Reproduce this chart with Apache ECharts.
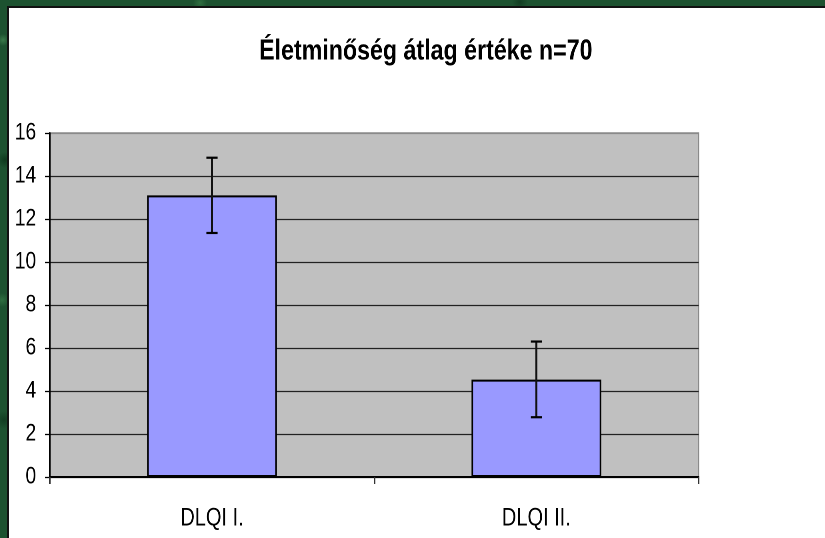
<!DOCTYPE html>
<html>
<head>
<meta charset="utf-8">
<script src="https://cdn.jsdelivr.net/npm/echarts@6/dist/echarts.min.js"></script>
<style>
  html, body { margin: 0; padding: 0; }
  body {
    width: 825px; height: 538px; overflow: hidden; position: relative;
    background-color: #1d5230;
    background-image:
      radial-gradient(circle at 3px 40px, #3a7a4a 0, transparent 6px),
      radial-gradient(circle at 5px 160px, #0f3a1e 0, transparent 8px),
      radial-gradient(circle at 2px 300px, #2f6e40 0, transparent 7px),
      radial-gradient(circle at 4px 420px, #123d22 0, transparent 9px),
      radial-gradient(circle at 200px 3px, #2f6e40 0, transparent 7px),
      radial-gradient(circle at 520px 2px, #123d22 0, transparent 8px);
  }
  #frame {
    position: absolute; left: 7px; top: 6px; width: 816px; height: 532px;
    background: #fff; border-left: 2px solid #111; border-top: 2px solid #111;
    overflow: hidden;
  }
  /* az eredeti kép vízszintesen össze van nyomva */
  #chart {
    position: absolute; left: 0; top: 0; width: 1020px; height: 532px;
    transform: scaleX(0.8); transform-origin: 0 0;
  }
</style>
</head>
<body>
<div id="frame"><div id="chart"></div></div>
<script>
// kategóriák és értékek
var categories = ['DLQI I.', 'DLQI II.']
var means = [13.1, 4.53]
var errLow = [11.35, 2.78]
var errHigh = [14.85, 6.3]
var yTicks = [0, 2, 4, 6, 8, 10, 12, 14, 16]

var font = "'Liberation Sans', Arial, sans-serif"
var myChart = echarts.init(document.getElementById('chart'), null, { devicePixelRatio: 2 })

var errData = categories.map(function (c, i) {
  return [i, errLow[i], errHigh[i]]
})

var option = {
  animation: false,
  title: {
    text: 'Életminőség átlag értéke n=70',
    left: 516,
    top: 24,
    textAlign: 'center',
    textStyle: { fontFamily: font, fontSize: 29, fontWeight: 'bold', color: '#000' }
  },
  grid: {
    left: 51, top: 125, width: 811, height: 344,
    show: true, backgroundColor: '#c0c0c0', borderColor: '#8a8a8a', borderWidth: 1.5
  },
  xAxis: {
    type: 'category',
    data: categories,
    axisLine: { lineStyle: { color: '#000', width: 2 } },
    axisTick: { show: true, length: 7, lineStyle: { color: '#333', width: 2 } },
    axisLabel: { margin: 29, fontFamily: font, fontSize: 25, color: '#000' }
  },
  yAxis: {
    type: 'value',
    min: yTicks[0],
    max: yTicks[yTicks.length - 1],
    interval: 2,
    axisLine: { show: true, lineStyle: { color: '#000', width: 2 } },
    axisTick: { show: true, length: 6, lineStyle: { color: '#000', width: 1.3 } },
    axisLabel: { margin: 17, fontFamily: font, fontSize: 24, color: '#000' },
    splitLine: {
      show: true,
      lineStyle: {
        color: ['#000', '#222', '#222', '#222', '#222', '#222', '#222', '#222', '#8a8a8a'],
        width: 1.3
      }
    }
  },
  series: [
    {
      type: 'bar',
      data: means,
      barWidth: '40%',
      itemStyle: { color: '#9999ff', borderColor: '#000', borderWidth: 2 }
    },
    {
      type: 'custom',
      data: errData,
      z: 10,
      renderItem: function (params, api) {
        var lo = api.coord([api.value(0), api.value(1)])
        var hi = api.coord([api.value(0), api.value(2)])
        var w = 7
        return {
          type: 'group',
          children: [
            { type: 'line', shape: { x1: hi[0], y1: hi[1], x2: lo[0], y2: lo[1] }, style: { stroke: '#111', lineWidth: 2.5 } },
            { type: 'line', shape: { x1: hi[0] - w, y1: hi[1], x2: hi[0] + w, y2: hi[1] }, style: { stroke: '#000', lineWidth: 2.2 } },
            { type: 'line', shape: { x1: lo[0] - w, y1: lo[1], x2: lo[0] + w, y2: lo[1] }, style: { stroke: '#000', lineWidth: 2.2 } }
          ]
        }
      }
    }
  ]
}
myChart.setOption(option)
</script>
</body>
</html>
